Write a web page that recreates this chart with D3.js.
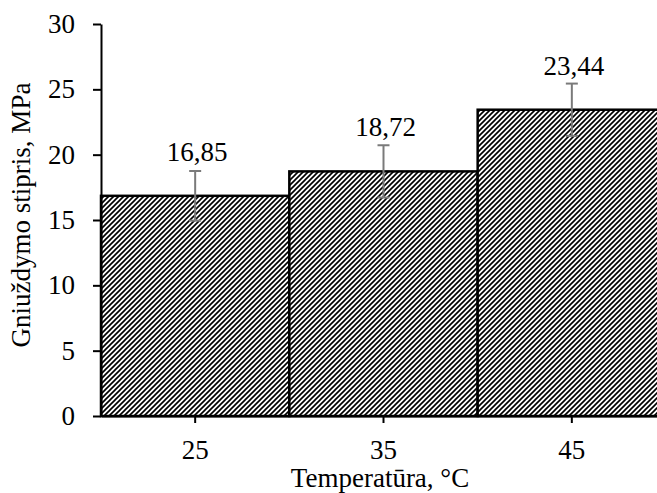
<!DOCTYPE html>
<html>
<head>
<meta charset="utf-8">
<script src="https://cdn.jsdelivr.net/npm/d3@7"></script>
<style>
  html, body { margin: 0; padding: 0; background: #fff; }
  svg { display: block; }
  text { font-family: "Liberation Serif", "Times New Roman", serif; fill: #000; }
</style>
</head>
<body>
<svg id="chart" width="657" height="493"></svg>
<script>
// Compressive strength by curing temperature
const categories = ["25", "35", "45"];
const strength = [16.85, 18.72, 23.44];
const errors = [1.9, 2.0, 2.0];
const valueLabels = ["16,85", "18,72", "23,44"];
const yTicks = [0, 5, 10, 15, 20, 25, 30];
const xTitle = "Temperatūra, °C";
const yTitle = "Gniuždymo stipris, MPa";

const svg = d3.select("#chart");
const plotLeft = 101, plotTop = 24, plotBottom = 416, plotRight = 666;
const fontSize = 27;

const x = d3.scaleBand().domain(categories).range([plotLeft, plotRight]).padding(0);
const y = d3.scaleLinear().domain([0, 30]).range([plotBottom, plotTop]);

// diagonal hatch fill for the bars
const defs = svg.append("defs");
const pat = defs.append("pattern")
  .attr("id", "hatch")
  .attr("patternUnits", "userSpaceOnUse")
  .attr("width", 5).attr("height", 5);
pat.append("rect").attr("width", 5).attr("height", 5).attr("fill", "#fff");
pat.append("path")
  .attr("d", "M-1,1 L1,-1 M0,5 L5,0 M4,6 L6,4")
  .attr("stroke", "#000").attr("stroke-width", 1.65);

const data = categories.map((c, i) => ({ c, v: strength[i], e: errors[i], label: valueLabels[i] }));

// bars
svg.append("g").selectAll("rect").data(data).join("rect")
  .attr("x", d => x(d.c))
  .attr("y", d => y(d.v))
  .attr("width", x.bandwidth())
  .attr("height", d => y(0) - y(d.v))
  .attr("fill", "url(#hatch)")
  .attr("stroke", "#000")
  .attr("stroke-width", 2.5);

// error bars
const eb = svg.append("g").attr("stroke", "#7a7a7a").attr("stroke-width", 2).attr("fill", "none");
const capW = 6;
data.forEach(d => {
  const cx = x(d.c) + x.bandwidth() / 2;
  eb.append("line").attr("x1", cx).attr("x2", cx).attr("y1", y(d.v + d.e)).attr("y2", y(d.v - d.e));
  eb.append("line").attr("x1", cx - capW).attr("x2", cx + capW).attr("y1", y(d.v + d.e)).attr("y2", y(d.v + d.e));
  eb.append("line").attr("x1", cx - capW).attr("x2", cx + capW).attr("y1", y(d.v - d.e)).attr("y2", y(d.v - d.e));
});

// value labels
svg.append("g").selectAll("text").data(data).join("text")
  .attr("x", d => x(d.c) + x.bandwidth() / 2 + 2)
  .attr("y", d => y(d.v) - 35)
  .attr("text-anchor", "middle")
  .attr("font-size", fontSize)
  .text(d => d.label);

// y axis
const yAxis = svg.append("g")
  .attr("transform", `translate(${plotLeft},0)`)
  .call(d3.axisLeft(y).tickValues(yTicks).tickSize(8).tickSizeOuter(0).tickPadding(18).tickFormat(d3.format("d")));
yAxis.selectAll("text").attr("font-size", fontSize).attr("font-family", null);
yAxis.selectAll("line").attr("stroke", "#000").attr("stroke-width", 2);
yAxis.select(".domain").attr("stroke", "#000").attr("stroke-width", 2);

// x axis
const xAxis = svg.append("g")
  .attr("transform", `translate(0,${plotBottom})`)
  .call(d3.axisBottom(x).tickSize(7).tickSizeOuter(0).tickPadding(17));
xAxis.selectAll("text").attr("font-size", fontSize).attr("font-family", null);
xAxis.selectAll("line").attr("stroke", "#000").attr("stroke-width", 2);
xAxis.select(".domain").attr("stroke", "#000").attr("stroke-width", 2);

// axis titles
svg.append("text")
  .attr("x", (plotLeft + 657) / 2 + 1)
  .attr("y", 487)
  .attr("text-anchor", "middle")
  .attr("font-size", fontSize)
  .text(xTitle);

svg.append("text")
  .attr("transform", `translate(30,${(77 + 353) / 2}) rotate(-90)`)
  .attr("text-anchor", "middle")
  .attr("font-size", fontSize)
  .text(yTitle);
</script>
</body>
</html>
